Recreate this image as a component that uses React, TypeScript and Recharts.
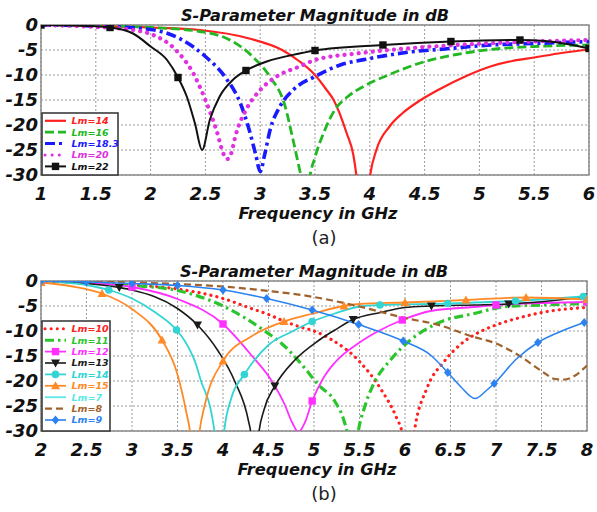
import React from 'react';
import { ComposedChart, Line, Scatter, XAxis, YAxis, CartesianGrid, ReferenceArea } from 'recharts';

type Pt = [number, number];

const titleText = 'S-Parameter Magnitude in dB';
const xLabelText = 'Frequency in GHz';
const panelLabels = ['(a)', '(b)'];

const aFreqTicks = [1, 1.5, 2, 2.5, 3, 3.5, 4, 4.5, 5, 5.5, 6];
const bFreqTicks = [2, 2.5, 3, 3.5, 4, 4.5, 5, 5.5, 6, 6.5, 7, 7.5, 8];
const dbTicks = [0, -5, -10, -15, -20, -25, -30];

// ---------- Panel (a) ----------
const aLm14: Pt[] = [[1, 0], [1.5, -0.2], [2, -0.5], [2.45, -1.0], [2.9, -2.7], [3.2, -5], [3.36, -7.3], [3.5, -10], [3.6, -12.8], [3.67, -15], [3.79, -21.7], [3.85, -26], [3.88, -30.5], [3.94, -45], [4.0, -30.5], [4.06, -25], [4.18, -20.3], [4.3, -17.6], [4.43, -15.5], [4.64, -12.8], [4.88, -10.2], [5.1, -8.3], [5.3, -7.2], [5.5, -6.5], [5.75, -5.6], [6, -4.9]];
const aLm16: Pt[] = [[1, 0], [1.5, -0.1], [2, -0.5], [2.45, -1.3], [2.75, -3.3], [2.93, -6.3], [3.1, -10.7], [3.22, -15.7], [3.3, -23], [3.36, -29], [3.38, -31], [3.41, -45], [3.45, -31], [3.5, -26.5], [3.58, -21.5], [3.68, -17], [3.8, -14.3], [3.95, -12.2], [4.18, -9.9], [4.49, -7.4], [4.79, -5.9], [5.1, -4.9], [5.5, -4.3], [6, -4]];
const aLm183: Pt[] = [[1, 0], [1.5, -0.2], [2, -0.9], [2.29, -3], [2.5, -6.3], [2.69, -10.7], [2.82, -15.7], [2.9, -21], [2.96, -26], [3.0, -29.3], [3.04, -26], [3.09, -21], [3.18, -16.3], [3.3, -13], [3.5, -10.3], [3.73, -8], [4.0, -6.7], [4.33, -5.5], [4.73, -4.7], [5.1, -4], [5.5, -3.7], [6, -3.3]];
const aLm20: Pt[] = [[1, 0], [1.5, -0.4], [1.84, -1], [2, -1.8], [2.23, -5], [2.39, -9.7], [2.5, -15], [2.6, -21], [2.67, -26], [2.7, -26.8], [2.73, -26], [2.78, -21.7], [2.87, -17], [3, -13], [3.15, -10.3], [3.36, -8.3], [3.5, -7], [3.88, -5.7], [4.33, -4.7], [4.79, -4], [5.5, -3.3], [6, -3]];
const aLm22: Pt[] = [[1, 0], [1.3, -0.1], [1.63, -0.5], [1.84, -1.7], [2.0, -4.3], [2.15, -7], [2.25, -10.5], [2.33, -14.3], [2.405, -19.7], [2.47, -25], [2.54, -19], [2.63, -14.3], [2.75, -11], [2.87, -9.1], [3.06, -7.3], [3.36, -5.7], [3.5, -5.1], [4.12, -4], [4.74, -3.3], [5.37, -3], [5.6, -3.2], [5.8, -3.8], [6, -4.7]];
const aLm22Marks: Pt[] = [[1, 0], [1.63, -0.5], [2.25, -10.5], [2.87, -9.1], [3.5, -5.1], [4.12, -4], [4.74, -3.3], [5.37, -3], [6, -4.7]];

// ---------- Panel (b) ----------
const bLm10: Pt[] = [[2, 0], [2.5, -0.3], [3, -0.8], [3.5, -1.6], [4, -3.5], [4.31, -5.5], [4.5, -6.7], [4.68, -8.1], [4.85, -9.2], [5.0, -10], [5.2, -11.8], [5.5, -16.1], [5.73, -21.5], [5.91, -27.5], [5.97, -30.5], [6.03, -42], [6.1, -30.5], [6.24, -21.5], [6.43, -16.1], [6.65, -12.1], [6.83, -10.1], [7.0, -8.8], [7.31, -7.1], [7.5, -6.3], [8, -5.3]];
const bLm11: Pt[] = [[2, 0], [2.5, -0.3], [3, -0.9], [3.5, -1.9], [4, -5], [4.42, -9.5], [4.68, -13.1], [4.87, -16.8], [5.05, -20.8], [5.23, -24.1], [5.33, -28], [5.37, -31], [5.42, -42], [5.48, -31], [5.56, -25], [5.65, -20.8], [5.84, -15.8], [6.06, -11.8], [6.35, -8.5], [6.76, -6.5], [7.12, -5.1], [7.5, -4.8], [8, -4.5]];
const bLm12: Pt[] = [[2, 0], [2.5, -0.3], [3, -1.2], [3.5, -3.6], [4, -8.6], [4.31, -14.8], [4.54, -20.1], [4.68, -24.8], [4.76, -28.3], [4.83, -30.2], [4.9, -28.3], [4.98, -24], [5.1, -19.5], [5.23, -16.3], [5.5, -12.3], [5.73, -9.8], [5.97, -7.8], [6.28, -6.0], [6.83, -5.1], [7, -4.8], [8, -4.2]];
const bLm12Marks: Pt[] = [[2, 0], [3, -1.2], [4, -8.6], [4.98, -24], [5.97, -7.8], [7, -4.8], [8, -4.2]];
const bLm13: Pt[] = [[2, 0], [2.5, -0.5], [2.86, -1.3], [3, -1.8], [3.5, -5.5], [3.72, -8.8], [3.95, -14.1], [4.13, -20.1], [4.28, -28], [4.31, -31], [4.35, -42], [4.39, -31], [4.45, -25.8], [4.57, -21], [4.79, -15.8], [5.05, -11.9], [5.23, -9.8], [5.43, -7.7], [5.73, -6.3], [6, -5.3], [6.29, -5], [6.76, -4.8], [7.14, -4.6], [8, -3.2]];
const bLm13Marks: Pt[] = [[2, 0], [2.86, -1.3], [3.72, -8.8], [4.57, -21], [5.43, -7.7], [6.29, -5], [7.14, -4.6], [8, -3.2]];
const bLm14: Pt[] = [[2, 0], [2.5, -0.8], [2.745, -1.8], [3, -3.5], [3.25, -6.2], [3.49, -9.8], [3.58, -12], [3.7, -16.5], [3.76, -20.1], [3.87, -26.1], [3.91, -30.5], [3.97, -42], [4.01, -30.5], [4.09, -23.5], [4.235, -18.7], [4.5, -12.8], [4.76, -10.1], [4.98, -8.1], [5.23, -6.5], [5.5, -5.1], [5.725, -4.8], [6.47, -4.5], [7.215, -4], [7.96, -3.1]];
const bLm14Marks: Pt[] = [[2, 0], [2.745, -1.8], [3.49, -9.8], [4.235, -18.7], [4.98, -8.1], [5.725, -4.8], [6.47, -4.5], [7.215, -4], [7.96, -3.1]];
const bLm15: Pt[] = [[2, -0.3], [2.35, -1.1], [2.67, -2.5], [3, -5.6], [3.33, -11.8], [3.49, -18.1], [3.6, -26.5], [3.64, -30.5], [3.69, -42], [3.74, -30.5], [3.8, -24.8], [4, -16], [4.31, -11.1], [4.67, -8.1], [4.99, -6.5], [5.33, -5], [5.5, -4.6], [6, -4.3], [6.67, -3.8], [7.33, -3.3], [8, -3.7]];
const bLm15Marks: Pt[] = [[2, -0.3], [2.67, -2.5], [3.33, -11.8], [4, -16], [4.67, -8.1], [5.33, -5], [6, -4.3], [6.67, -3.8], [7.33, -3.3], [8, -3.7]];
const bLm7: Pt[] = [];
const bLm8: Pt[] = [[2, 0], [2.5, -0.1], [3, -0.3], [3.5, -0.6], [4, -1.1], [4.5, -2], [5, -3.2], [5.2, -3.9], [5.5, -5.1], [6, -7.4], [6.39, -8.9], [6.72, -11], [7, -12.5], [7.27, -15.1], [7.5, -18], [7.65, -19.6], [7.75, -19.7], [7.86, -19], [8, -16.9]];
const bLm9: Pt[] = [[2, 0], [2.5, -0.2], [3, -0.5], [3.5, -0.9], [4, -1.8], [4.48, -3.5], [4.98, -5.8], [5.49, -8.7], [5.98, -12], [6.28, -14.8], [6.47, -18.3], [6.61, -21.1], [6.77, -23.5], [6.9, -21.8], [6.98, -20.5], [7.23, -15.5], [7.46, -12.3], [7.71, -10.1], [7.97, -8.3]];
const bLm9Marks: Pt[] = [[2, 0], [2.5, -0.2], [3, -0.5], [3.5, -0.9], [4, -1.8], [4.48, -3.5], [4.98, -5.8], [5.49, -8.7], [5.98, -12], [6.47, -18.3], [6.98, -20.5], [7.46, -12.3], [7.97, -8.3]];

type MarkKind = 'square' | 'triDown' | 'triUp' | 'circle' | 'diamond' | null;
interface Series {
  name: string;
  curve: Pt[];
  marks: Pt[] | null;
  color: string;
  width: number;
  dash?: string;
  round?: boolean;
  mark: MarkKind;
}

const aSeries: Series[] = [
  { name: 'Lm=14', curve: aLm14, marks: null, color: '#ff2020', width: 2.2, mark: null },
  { name: 'Lm=16', curve: aLm16, marks: null, color: '#22b822', width: 2.8, dash: '9 4', mark: null },
  { name: 'Lm=18.3', curve: aLm183, marks: null, color: '#1a1aff', width: 3.6, dash: '10 4 3 4', mark: null },
  { name: 'Lm=20', curve: aLm20, marks: null, color: '#e030e0', width: 4.2, dash: '0.1 7', round: true, mark: null },
  { name: 'Lm=22', curve: aLm22, marks: aLm22Marks, color: '#111111', width: 2, mark: 'square' },
];

const bSeries: Series[] = [
  { name: 'Lm=10', curve: bLm10, marks: null, color: '#ff2020', width: 3.2, dash: '0.1 6', round: true, mark: null },
  { name: 'Lm=11', curve: bLm11, marks: null, color: '#2cc42c', width: 3.2, dash: '9 4 2.5 4', mark: null },
  { name: 'Lm=12', curve: bLm12, marks: bLm12Marks, color: '#ff30ff', width: 1.8, mark: 'square' },
  { name: 'Lm=13', curve: bLm13, marks: bLm13Marks, color: '#1a1a1a', width: 1.6, mark: 'triDown' },
  { name: 'Lm=14', curve: bLm14, marks: bLm14Marks, color: '#33d4d4', width: 1.8, mark: 'circle' },
  { name: 'Lm=15', curve: bLm15, marks: bLm15Marks, color: '#ff8a26', width: 1.8, mark: 'triUp' },
  { name: 'Lm=7', curve: bLm7, marks: null, color: '#5ce8e8', width: 1.8, mark: null },
  { name: 'Lm=8', curve: bLm8, marks: null, color: '#a0622d', width: 2.2, dash: '7 4', mark: null },
  { name: 'Lm=9', curve: bLm9, marks: bLm9Marks, color: '#2b82f0', width: 1.6, mark: 'diamond' },
];

const toData = (pts: Pt[]) => pts.map(([f, db]) => ({ f, db }));

function markerEl(kind: MarkKind, cx: number, cy: number, color: string, key?: string) {
  if (!kind || cx == null || cy == null) return null;
  switch (kind) {
    case 'square':
      return <rect key={key} x={cx - 3.7} y={cy - 3.7} width={7.4} height={7.4} fill={color} />;
    case 'circle':
      return <circle key={key} cx={cx} cy={cy} r={3.8} fill={color} />;
    case 'triUp':
      return <polygon key={key} points={`${cx},${cy - 4.5} ${cx + 4.5},${cy + 3.5} ${cx - 4.5},${cy + 3.5}`} fill={color} />;
    case 'triDown':
      return <polygon key={key} points={`${cx},${cy + 4.5} ${cx + 4.5},${cy - 3.5} ${cx - 4.5},${cy - 3.5}`} fill={color} />;
    case 'diamond':
      return <polygon key={key} points={`${cx},${cy - 4.5} ${cx + 3.8},${cy} ${cx},${cy + 4.5} ${cx - 3.8},${cy}`} fill={color} />;
  }
  return null;
}

const FONT = '"DejaVu Sans", Verdana, sans-serif';
const tickStyle = { fontSize: 18, fontWeight: 700, fontStyle: 'italic', fill: '#111', fontFamily: FONT };

interface PanelProps {
  series: Series[];
  ticks: number[];
  domain: [number, number];
  right: number;
  legend: { x: number; y: number; w: number; h: number };
  label: string;
}

function Panel({ series, ticks, domain, right, legend, label }: PanelProps) {
  const plotLeft = 41;
  const plotRight = 597 - right;
  const cx = (plotLeft + plotRight) / 2;
  return (
    <div style={{ position: 'relative', width: 597, height: 256 }}>
      <ComposedChart width={597} height={256} margin={{ top: 25, right, left: 0, bottom: 0 }}>
        <CartesianGrid stroke="#9c9c9c" strokeDasharray="2 2" strokeWidth={1} />
        <XAxis type="number" dataKey="f" domain={domain} ticks={ticks} interval={0} allowDataOverflow height={81}
          tickSize={0} tickMargin={12} axisLine={false} tickLine={false} tick={tickStyle} />
        <YAxis type="number" dataKey="db" domain={[-30, 0]} ticks={dbTicks} interval={0} allowDataOverflow width={41}
          tickSize={0} tickMargin={3} axisLine={false} tickLine={false} tick={tickStyle} />
        <ReferenceArea x1={domain[0]} x2={domain[1]} y1={-30} y2={0} fill="none" stroke="#8a8a8a" strokeWidth={1.5} ifOverflow="visible" />
        {series.map((s) => (
          <Line key={s.name} data={toData(s.curve)} dataKey="db" type="monotone" stroke={s.color} strokeWidth={s.width}
            strokeDasharray={s.dash} strokeLinecap={s.round ? 'round' : 'butt'} dot={false} activeDot={false}
            isAnimationActive={false} legendType="none" />
        ))}
        {series.filter((s) => s.marks).map((s) => (
          <Scatter key={s.name + 'm'} data={toData(s.marks as Pt[])} dataKey="db" isAnimationActive={false}
            shape={(p: any) => markerEl(s.mark, p.cx, p.cy, s.color) || <g />} />
        ))}
      </ComposedChart>
      <svg width={597} height={256} style={{ position: 'absolute', left: 0, top: 0, pointerEvents: 'none' }}>
        <text x={cx} y={20.5} textAnchor="middle" fontFamily={FONT} fontSize={16} fontWeight={700} fontStyle="italic"
          fill="#111" textLength={268} lengthAdjust="spacingAndGlyphs">{titleText}</text>
        <text x={cx + 3} y={219} textAnchor="middle" fontFamily={FONT} fontSize={16.5} fontWeight={700} fontStyle="italic"
          fill="#111" textLength={159} lengthAdjust="spacingAndGlyphs">{xLabelText}</text>
        <text x={324} y={243.5} textAnchor="middle" fontFamily={FONT} fontSize={18} fill="#222">{label}</text>
        <rect x={legend.x} y={legend.y} width={legend.w} height={legend.h} fill="#fff" stroke="#3c3c3c" strokeWidth={1.6} />
        {series.map((s, i) => {
          const yy = legend.y + 7.8 + i * 11.4;
          return (
            <g key={s.name}>
              <line x1={legend.x + 3} x2={legend.x + 24} y1={yy} y2={yy} stroke={s.color} strokeWidth={Math.min(s.width, 3)}
                strokeDasharray={s.dash} strokeLinecap={s.round ? 'round' : 'butt'} />
              {markerEl(s.mark, legend.x + 13.5, yy, s.color)}
              <text x={legend.x + 29.5} y={yy + 3.4} fontFamily={FONT} fontSize={9.5} fontWeight={700} fontStyle="italic"
                fill={s.color}>{s.name}</text>
            </g>
          );
        })}
      </svg>
    </div>
  );
}

export default function App() {
  return (
    <div style={{ position: 'absolute', left: 0, top: 0, width: 597, height: 512, background: '#fff' }}>
      <Panel series={aSeries} ticks={aFreqTicks} domain={[1, 6]} right={8}
        legend={{ x: 42, y: 113, w: 76, h: 62 }} label={panelLabels[0]} />
      <Panel series={bSeries} ticks={bFreqTicks} domain={[2, 8]} right={10}
        legend={{ x: 42, y: 65, w: 68, h: 110 }} label={panelLabels[1]} />
    </div>
  );
}
